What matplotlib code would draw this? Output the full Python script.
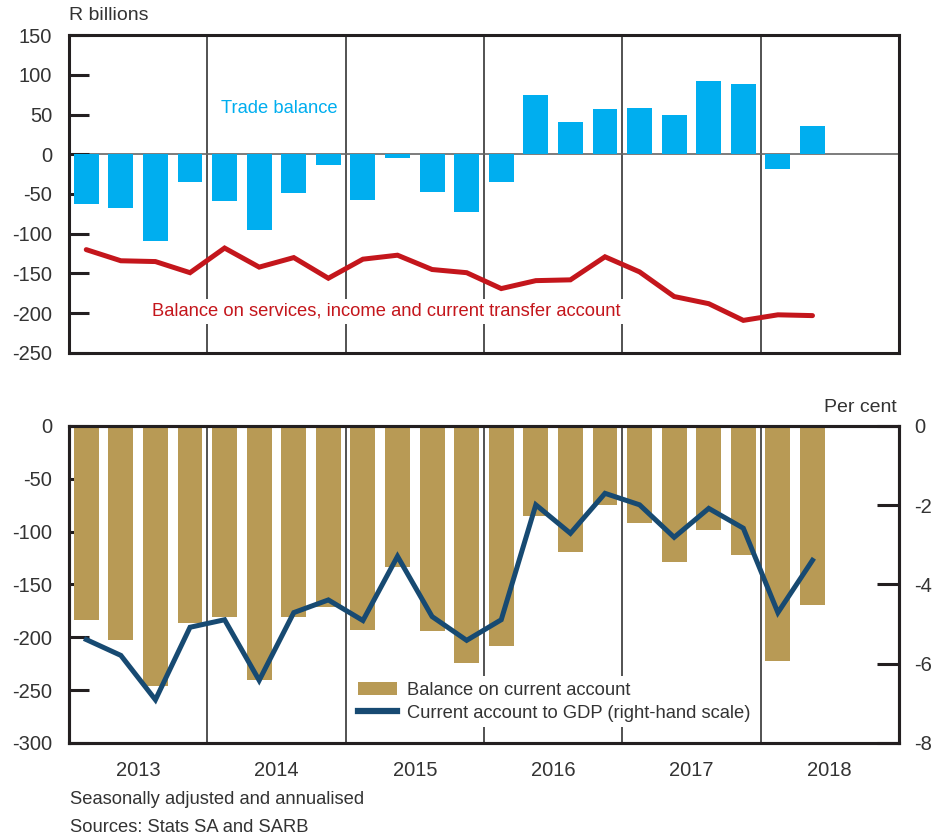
import numpy as np
import matplotlib
matplotlib.use("Agg")
import matplotlib.pyplot as plt
from matplotlib.patches import Patch
from matplotlib.lines import Line2D

# -------------------------------------------
# data (quarterly, 2013Q1 - 2018Q2)
# -------------------------------------------
years = ["2013", "2014", "2015", "2016", "2017", "2018"]

trade_balance = [-63, -68, -109, -35, -59, -95, -49, -14,
                 -58, -5, -47, -73, -35, 75, 40, 57,
                 58, 50, 92, 88, -18, 35]

services_balance = [-120, -134, -135, -149, -118, -142, -130, -156,
                    -132, -127, -145, -149, -169, -159, -158, -129,
                    -148, -179, -188, -209, -202, -203]

current_account = [-184, -203, -246, -186, -181, -240, -181, -171,
                   -193, -133, -194, -224, -208, -85, -119, -75,
                   -92, -129, -98, -122, -222, -169]

ca_to_gdp = [-5.39, -5.79, -6.91, -5.08, -4.89, -6.42, -4.71, -4.39,
             -4.91, -3.29, -4.81, -5.41, -4.89, -1.99, -2.71, -1.70,
             -1.99, -2.81, -2.08, -2.58, -4.71, -3.39]

# colours / styles
c_blue = "#00aeef"
c_red = "#c4161c"
c_gold = "#b89a55"
c_navy = "#174a72"
c_text = "#231f20"
c_label = "#333333"
c_sep = "#444444"

plt.rcParams["font.family"] = ["Liberation Sans", "DejaVu Sans"]
plt.rcParams["axes.unicode_minus"] = False
plt.rcParams["text.color"] = c_label

fs_tick = 14.5
fs_text = 13.2
spine_lw = 2.2
bar_w = 0.72

x = np.arange(len(trade_balance))
n_slots = 4 * len(years)
seps = [4 * i - 0.5 for i in range(1, len(years))]
year_pos = [4 * i + 1.5 for i in range(len(years))]

fig = plt.figure(figsize=(9.41, 8.4), dpi=100)


def style_frame(ax):
    for s in ax.spines.values():
        s.set_linewidth(spine_lw)
        s.set_color(c_text)
    ax.set_xlim(-0.5, n_slots - 0.5)


# -------------------------------------------
# top panel
# -------------------------------------------
ax1 = fig.add_axes([0.0733, 0.5798, 0.882, 0.3785])
style_frame(ax1)
for s in seps:
    ax1.axvline(s, color=c_sep, lw=1.3, zorder=1)
ax1.axhline(0, color="#666666", lw=1.2, zorder=1)
ax1.bar(x, trade_balance, width=bar_w, color=c_blue, zorder=2)
ax1.plot(x, services_balance, color=c_red, lw=3.6, solid_capstyle="round",
         solid_joinstyle="miter", zorder=4)
ax1.set_ylim(-250, 150)
ax1.set_yticks(np.arange(-250, 151, 50))
ax1.set_xticks([])
ax1.tick_params(axis="y", direction="in", length=14.5, width=spine_lw,
                color=c_text, labelsize=fs_tick, labelcolor=c_label, pad=12)

ax1.text(3.9, 57, "Trade balance", color=c_blue, fontsize=fs_text,
         ha="left", va="center", zorder=5)
ax1.text(1.9, -197.5, "Balance on services, income and current transfer account",
         color=c_red, fontsize=fs_text, ha="left", va="center", zorder=3,
         bbox=dict(facecolor="white", edgecolor="none", pad=3))

fig.text(69 / 941, 1 - 15 / 840, "R billions", fontsize=fs_tick - 0.5,
         ha="left", va="center")

# -------------------------------------------
# bottom panel
# -------------------------------------------
ax2 = fig.add_axes([0.0733, 0.1155, 0.882, 0.3774])
style_frame(ax2)
for s in seps:
    ax2.axvline(s, color=c_sep, lw=1.3, zorder=1)
ax2.bar(x, current_account, width=bar_w, color=c_gold, zorder=2)
ax2.set_ylim(-300, 0)
ax2.set_yticks(np.arange(-300, 1, 50))
ax2.set_xticks(year_pos)
ax2.set_xticklabels(years)
ax2.tick_params(axis="y", direction="in", length=14.5, width=spine_lw,
                color=c_text, labelsize=fs_tick, labelcolor=c_label, pad=12)
ax2.tick_params(axis="x", length=0, labelsize=fs_tick, labelcolor=c_label, pad=13)

ax3 = ax2.twinx()
ax3.set_xlim(-0.5, n_slots - 0.5)
ax3.plot(x, ca_to_gdp, color=c_navy, lw=3.6, solid_joinstyle="miter", zorder=4)
ax3.set_ylim(-8, 0)
ax3.set_yticks([0, -2, -4, -6, -8])
ax3.tick_params(axis="y", direction="in", length=15.5, width=spine_lw,
                color=c_text, labelsize=fs_tick, labelcolor=c_label, pad=11)
for s in ax3.spines.values():
    s.set_linewidth(spine_lw)
    s.set_color(c_text)

handles = [Patch(facecolor=c_gold, edgecolor="none"),
           Line2D([], [], color=c_navy, lw=4.5)]
labels = ["Balance on current account",
          "Current account to GDP (right-hand scale)"]
leg = ax3.legend(handles, labels, loc="upper left",
                 bbox_to_anchor=(352 / 941, 1 - 676 / 840),
                 bbox_transform=fig.transFigure, fontsize=fs_text,
                 frameon=True, fancybox=False, framealpha=1,
                 handlelength=2.15, handleheight=0.75, handletextpad=0.55,
                 labelspacing=0.32, borderpad=0.3, borderaxespad=0)
leg.get_frame().set_edgecolor("white")
leg.get_frame().set_linewidth(0)

fig.text(897 / 941, 1 - 407 / 840, "Per cent", fontsize=fs_tick - 0.5,
         ha="right", va="center")

fig.text(70 / 941, 1 - 800 / 840, "Seasonally adjusted and annualised",
         fontsize=fs_text, ha="left", va="center")
fig.text(70 / 941, 1 - 828 / 840, "Sources: Stats SA and SARB",
         fontsize=fs_text, ha="left", va="center")

fig.savefig("out.png", dpi=100)
